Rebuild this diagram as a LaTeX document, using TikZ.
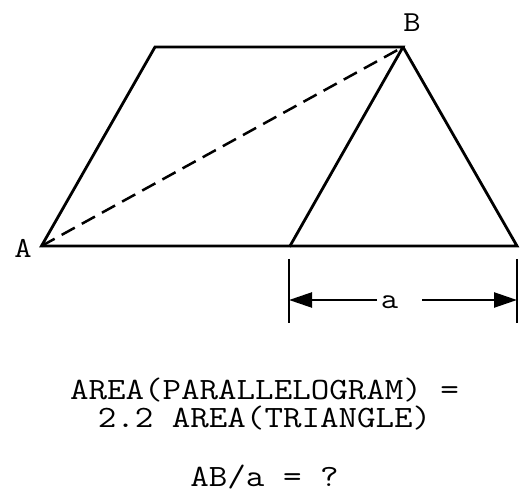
\documentclass[tikz,border=0pt]{standalone}
\usepackage{fontspec}
\usepackage{graphicx}
\setmonofont{Latin Modern Mono}
\newcommand{\wtext}[1]{\scalebox{1.16}[1]{#1}}
\usetikzlibrary{arrows.meta}
\begin{document}
\begin{tikzpicture}[x=1pt,y=-1pt,
  edge/.style={line width=2.8pt,line join=miter},
  lbl/.style={font=\ttfamily\fontsize{29}{32}\selectfont,inner sep=0pt,anchor=base},
  txt/.style={font=\ttfamily\fontsize{31}{33}\selectfont,inner sep=0pt,anchor=base},
  tick/.style={line width=2.6pt},
  dim/.style={line width=2.4pt,-{Triangle[length=23pt,width=15pt]}}]
\useasboundingbox (0,0) rectangle (527,494);
\coordinate (A) at (41.5,246);
\coordinate (C) at (290,246);
\coordinate (B) at (403,47);
\coordinate (D) at (155,47);
\coordinate (E) at (517,246);
\draw[edge] (A) -- (C) -- (B) -- (D) -- cycle;
\draw[edge] (C) -- (E) -- (B);
\draw[line width=2.5pt,dash pattern=on 15pt off 8pt] (A) -- (B);
\node[lbl] (la) at (23,258) {\wtext{A}};
\node[lbl] (lb) at (412,32) {\wtext{B}};
\coordinate (t1a) at (289,259);
\coordinate (t1b) at (289,323);
\coordinate (t2a) at (517,259);
\coordinate (t2b) at (517,323);
\draw[tick] (t1a) -- (t1b);
\draw[tick] (t2a) -- (t2b);
\node[lbl] (a) at (389.5,308) {\wtext{a}};
\coordinate (al) at (377,300);
\coordinate (ar) at (422,300);
\coordinate (pl) at (289,300);
\coordinate (pr) at (517,300);
\draw[dim] (al) -- (pl);
\draw[dim] (ar) -- (pr);
\node[txt] (l1) at (264.5,399) {\wtext{AREA(PARALLELOGRAM) =}};
\node[txt] (l2) at (264.5,427) {\wtext{2.2 AREA(TRIANGLE)}};
\node[txt] (l3) at (264.5,486) {\wtext{AB/a = ?}};
\end{tikzpicture}
\end{document}
